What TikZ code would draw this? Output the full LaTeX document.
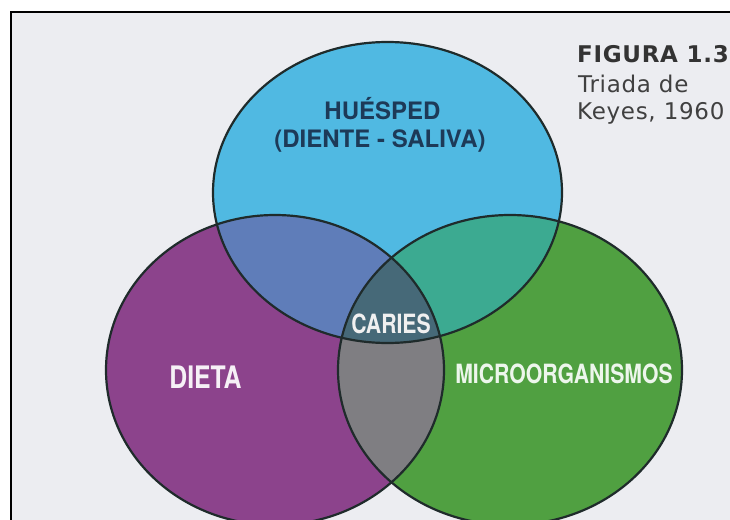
\documentclass[tikz,border=0pt]{standalone}
\usepackage{fontspec}
\usepackage{xcolor}
\usepackage{tikz}
\newfontfamily\headfont{TeX Gyre Heros}
\newfontfamily\condfont[FakeStretch=0.8]{TeX Gyre Heros}
\newfontfamily\capfont[LetterSpace=3]{DejaVu Sans}
\definecolor{Paper}{HTML}{ECEDF1}
\definecolor{Ink}{HTML}{1F2B2B}
\definecolor{Navy}{HTML}{1D3A58}
\definecolor{Host}{HTML}{50B9E2}
\definecolor{Diet}{HTML}{8C438C}
\definecolor{Germ}{HTML}{50A041}
\definecolor{HostDiet}{HTML}{5F7DB9}
\definecolor{HostGerm}{HTML}{3CAA91}
\definecolor{DietGerm}{HTML}{7F7E82}
\definecolor{Core}{HTML}{466978}

% the three sets of the triad
\def\hostpath{(387.5,192.5) ellipse [x radius=174.5,y radius=150.5]}
\def\dietpath{(275,370) ellipse [x radius=169,y radius=155]}
\def\germpath{(510,370) ellipse [x radius=172,y radius=155]}

\begin{document}
\begin{tikzpicture}[x=1pt,y=-1pt,
  ring/.style={draw=Ink,line width=2.2pt},
  setlabel/.style={inner sep=0pt,anchor=base,font=\condfont\bfseries\fontsize{26.5}{26.5}\selectfont},
  hostlabel/.style={inner sep=0pt,anchor=base,text=Navy,font=\headfont\bfseries\fontsize{24}{24}\selectfont},
  caption/.style={inner sep=0pt,anchor=base west,text=black!75,font=\capfont\fontsize{23}{23}\selectfont}]
  \useasboundingbox (0,0) rectangle (730,519);
  \fill[white] (0,0) rectangle (730,519);
  \filldraw[fill=Paper,draw=black,line width=2pt] (11,12) rectangle (745,535);

  % plain sets, then the overlaps on top
  \fill[Host] \hostpath;
  \fill[Diet] \dietpath;
  \fill[Germ] \germpath;
  \begin{scope}
    \clip \hostpath;
    \fill[HostDiet] \dietpath;
  \end{scope}
  \begin{scope}
    \clip \hostpath;
    \fill[HostGerm] \germpath;
  \end{scope}
  \begin{scope}
    \clip \dietpath;
    \fill[DietGerm] \germpath;
  \end{scope}
  \begin{scope}
    \clip \hostpath;
    \clip \dietpath;
    \fill[Core] \germpath;
  \end{scope}
  \draw[ring] \hostpath \dietpath \germpath;

  \node[hostlabel] (host) at (382.5,119) {HUÉSPED};
  \node[hostlabel] (hostsub) at (380,147) {(DIENTE - SALIVA)};
  \node[setlabel,text=white!94!black] (caries) at (391,333) {CARIES};
  \node[setlabel,text=Diet!8!white,font=\condfont\bfseries\fontsize{31}{31}\selectfont] (diet) at (205.5,388) {DIETA};
  \node[setlabel,text=Germ!10!white] (germ) at (564,383) {MICROORGANISMOS};

  \node[caption,font=\capfont\bfseries\fontsize{23}{23}\selectfont,text=black!80] (fig) at (577,63) {FIGURA 1.3};
  \node[caption] (title) at (578,92) {Triada de};
  \node[caption] (year) at (577,119) {Keyes, 1960};
\end{tikzpicture}
\end{document}
